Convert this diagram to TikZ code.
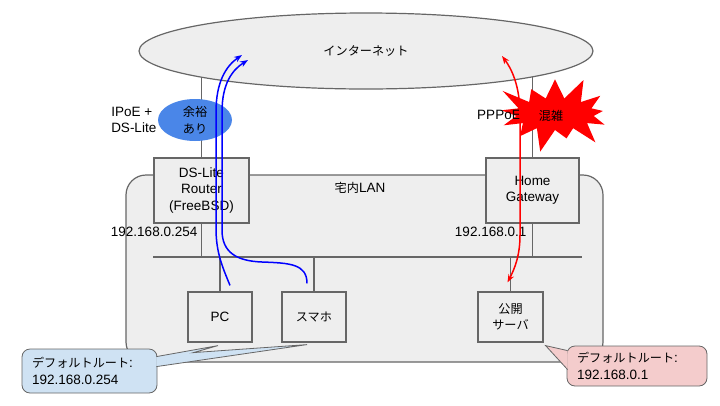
\documentclass[tikz,border=0pt]{standalone}
\usepackage{fontspec}
\setmainfont{Liberation Sans}
\newfontfamily\jp{Noto Sans CJK JP}[Scale=0.9]
\usepackage{tikz}
\usetikzlibrary{positioning, shapes.geometric, shapes.symbols, arrows.meta, backgrounds, calc}
\definecolor{box}{RGB}{238, 238, 238}
\definecolor{edge}{RGB}{102, 102, 102}
\definecolor{spare}{RGB}{74, 134, 232}
\definecolor{calm}{RGB}{207, 226, 243}
\definecolor{busy}{RGB}{244, 204, 204}

\tikzset{
  device/.style={draw=edge, fill=box, line width=1.2pt, align=center},
  wire/.style={draw=edge, line width=1.2pt},
  tipbox/.style={draw=edge, line width=0.8pt, rounded corners=8pt, align=left,
    inner xsep=10pt, inner ysep=0pt},
  flow/.style={line width=1.5pt, -{Stealth[length=8pt, width=6pt]}}
}

\begin{document}
\begin{tikzpicture}[x=1pt, y=-1pt, font=\fontsize{13.5}{16.5}\selectfont]
  \useasboundingbox (0,0) rectangle (720,405);

  % LAN
  \node (lan) [device, rounded corners=20pt, minimum width=477pt, minimum height=187pt] at (364.5,268.5) {};
  \node (lanname) at (360,188) {{\jp 宅内}LAN};

  % Internet
  \node (net) [device, ellipse, minimum width=454pt, minimum height=76pt] at (366,51) {{\jp インターネット}};

  % Routers
  \node (dslite) [device, minimum width=95pt, minimum height=65pt] at (201.5,190.5) {DS-Lite\\Router\\(FreeBSD)};
  \node (hgw) [device, minimum width=93pt, minimum height=65pt] at (532.5,190.5) {Home\\Gateway};

  \begin{scope}[on background layer]
    \draw [wire] (dslite.north) -- (dslite.north |- net.center);
    \draw [wire] (hgw.north) -- (hgw.north |- net.center);
  \end{scope}

  % Hosts
  \node (pc) [device, minimum width=64pt, minimum height=50pt] at (220,317) {PC};
  \node (phone) [device, minimum width=64pt, minimum height=50pt] at (314,317) {{\jp スマホ}};
  \node (server) [device, minimum width=65pt, minimum height=50pt] at (510.5,317) {{\jp 公開}\\{\jp サーバ}};

  % Bus
  \coordinate (busL) at (153,257);
  \coordinate (busR) at (582,257);
  \draw [wire] (busL) -- (busR);
  \foreach \n in {dslite, hgw} \draw [wire] (\n.south) -- (\n.south |- busL);
  \foreach \n in {pc, phone, server} \draw [wire] (\n.north) -- (\n.north |- busL);

  \node (ipL) [anchor=north east, inner sep=1pt] at ($(dslite.south)+(-3,2)$) {192.168.0.254};
  \node (ipR) [anchor=north east, inner sep=1pt] at ($(hgw.south)+(-5,2)$) {192.168.0.1};

  % Uplinks
  \node (room) [ellipse, fill=spare, minimum width=74pt, minimum height=42pt, align=center, inner sep=0pt] at (195,120) {{\jp 余裕}\\{\jp あり}};
  \node (ipoe) [left=-2pt of room, align=left] {IPoE +\\DS-Lite};
  \node (jam) [starburst, fill=red, minimum width=130pt, minimum height=84pt, starburst points=13,
    starburst point height=26pt, inner sep=0pt] at (555,114) {};
  \node (jamtext) at (551,116) {{\jp 混雑}};
  \node (pppoe) at (499,115) {PPPoE};

  % Flows
  \coordinate (a0) at ($(pc.north)+(10,-6)$);
  \coordinate (b0) at ($(phone.north)+(-7,-8)$);
  \coordinate (a1) at ($(net.center)+(-124,4)$);
  \coordinate (b1) at ($(net.center)+(-118,9)$);
  \coordinate (r0) at ($(server.north)+(-3,-9)$);
  \coordinate (r1) at ($(net.center)+(136,5)$);
  \draw [flow, blue] (a0) .. controls (222,266) and (216,252) .. (216,228) -- (216,112)
    .. controls (216,82) and (226,66) .. (a1);
  \draw [flow, blue] (b0) .. controls (307,264) and (290,263) .. (262,262)
    .. controls (236,261) and (222,252) .. (222,230) -- (222,112)
    .. controls (222,84) and (232,70) .. (b1);
  \draw [flow, red, {Stealth[length=8pt, width=6pt]}-{Stealth[length=8pt, width=6pt]}] (r0)
    .. controls (515,268) and (520,255) .. (520,235) -- (520,115)
    .. controls (520,85) and (511,68) .. (r1);

  % Default routes
  \node (tipL) [tipbox, fill=calm, text width=115pt, minimum height=44pt] at (89.5,371)
    {{\jp デフォルトルート}:\\192.168.0.254};
  \filldraw [draw=edge, fill=calm, line width=0.8pt] ($(tipL.north east)+(-1,8)$) -- ($(pc.south)+(-2,3)$)
    -- ($(tipL.north east)+(36,4)$) -- ($(phone.south)+(-7,2)$) -- ($(tipL.north east)+(-1,18)$);

  \node (tipR) [tipbox, fill=busy, text width=120pt, minimum height=40pt] at (637,366)
    {{\jp デフォルトルート}:\\192.168.0.1};
  \filldraw [draw=edge, fill=busy, line width=0.8pt] ($(tipR.north west)+(1,5)$) -- ($(server.south east)+(2,3)$)
    -- ($(tipR.north west)+(1,24)$);
\end{tikzpicture}
\end{document}
